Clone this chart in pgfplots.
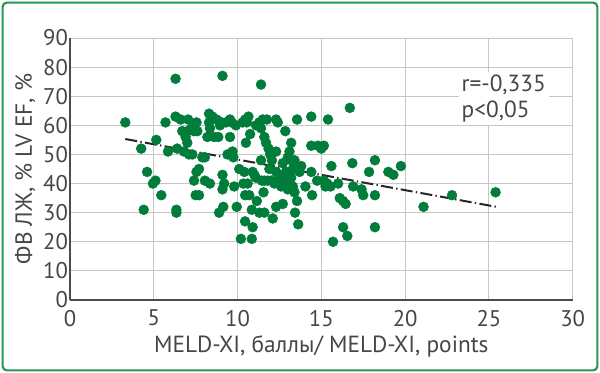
\documentclass[border=0pt]{standalone}
\usepackage{pgfplots}
\pgfplotsset{compat=1.18}
\usepackage{fontspec}
\setmainfont{PT Sans}
\definecolor{dotgreen}{RGB}{0,125,58}
\definecolor{framegreen}{RGB}{40,150,85}
\definecolor{txt}{RGB}{70,70,70}
\begin{document}
\begin{tikzpicture}
\fill[white] (-52.5pt,-54.75pt) rectangle (397.5pt,225pt);
\draw[framegreen, line width=1.6pt, rounded corners=3pt] (-50.5pt,-52.75pt) rectangle (395.5pt,223pt);
\begin{axis}[
  scale only axis, width=377pt, height=196.5pt,
  xmin=0, xmax=30, ymin=0, ymax=90,
  xtick={0,5,...,30}, ytick={0,10,...,90},
  grid=major, grid style={gray!45, line width=0.6pt},
  axis x line*=bottom, axis y line*=left,
  axis line style={-, gray!60!black, line width=1pt},
  tick style={draw=none},
  /pgf/number format/assume math mode=true,
  ticklabel style={font=\fontsize{17}{17}\selectfont, text=txt},
  xticklabel style={yshift=-4pt},
  yticklabel style={xshift=2pt},
  xlabel={MELD-XI, баллы/ MELD-XI, points},
  ylabel={ФВ ЛЖ, \% LV EF, \%},
  label style={font=\fontsize{17.5}{17.5}\selectfont, text=txt},
  xlabel style={yshift=0pt},
  ylabel style={yshift=-1pt},
  clip=false,
]
\addplot[only marks, mark=*, mark size=3.7pt, mark options={fill=dotgreen, draw=dotgreen}] coordinates {
(3.3,61)(4.25,52)(4.4,31)(4.6,44)(5.15,55)(4.95,40)(5.1,41)(5.45,36)(5.7,61)(5.85,51)
(6.3,76)(6.3,63)(6.35,31)(6.35,30)(6.4,52)(6.6,62)(6.8,51)(7.05,62)(6.7,58)(6.9,56)
(7.0,54)(7.1,50)(7.3,50)(7.0,58)(7.25,59)(7.4,58)(7.55,61)(7.6,58)(7.4,41)(7.55,44)
(7.7,45)(7.5,36)(7.7,36)(7.9,49)(8.05,49)(8.3,61)(8.3,64)(8.2,56)(8.35,59)(8.5,63)
(8.6,56)(8.85,56)(8.75,62)(9.05,61)(8.05,41)(8.35,40)(9.1,77)(9.1,43)(9.1,38)(9.2,40)
(8.9,30)(9.15,32)(9.3,61)(9.55,62)(9.65,61)(9.55,56)(9.7,51)(9.75,49)(9.8,39)(9.95,32)
(10.1,45)(10.2,21)(10.3,61)(10.45,62)(10.55,61)(10.5,54)(10.4,44)(10.35,40)(10.45,27)(10.45,36)
(10.7,36)(10.85,21)(10.9,25)(10.65,63)(10.75,57)(10.85,31)(10.9,44)(11.1,42)(11.15,34)(11.4,74)
(11.3,61)(11.4,59)(11.5,62)(11.6,56)(11.7,54)(11.4,48)(11.45,41)(11.55,37)(11.3,30)(11.6,30)
(11.75,62)(11.85,52)(11.95,50)(12.05,48)(12.1,28)(12.3,62)(12.4,61)(12.3,51)(12.3,44)(12.4,41)
(12.5,41)(12.3,32)(12.7,33)(12.75,42)(12.95,40)(13.1,43)(13.2,42)(12.85,58)(13.2,54)(13.1,51)
(13.0,49)(13.2,48)(13.4,48)(13.5,46)(13.3,39)(13.4,37)(13.43,30)(13.55,34)(13.62,26)(13.55,62)
(13.7,44)(13.8,46)(14.05,39)(14.4,63)(14.4,53)(14.4,44)(14.45,36)(14.8,53)(15.0,52)(15.15,53)
(14.75,41)(15.15,41)(15.25,39)(15.35,40)(15.4,62)(15.6,46)(15.55,39)(15.7,20)(16.0,40)(16.1,35)
(16.3,34)(16.45,33)(16.3,25)(16.55,22)(16.7,66)(16.85,47)(16.9,39)(17.4,38)(17.5,36)(17.85,44)
(18.2,48)(18.2,36)(18.2,25)(19.0,44)(19.3,43)(19.75,46)(21.1,32)(22.8,36)(25.4,37)
(11.1,60)(12.0,51)(12.6,43)(12.0,41)(11.8,41)(12.2,40)(13.0,38)(12.8,40)(12.6,39)(11.6,41)
(12.9,44)(12.5,42)(13.3,45)(11.0,43)(10.6,40)(9.9,60)(8.95,60)(9.4,50)(11.9,45)(12.7,47)
};
\addplot[line width=1.5pt, black!85, dash pattern=on 9pt off 2.5pt on 1pt off 2.5pt] coordinates {(3.3,55.3)(25.45,32)};
\node[fill=white, inner sep=2pt, align=left, anchor=north west, text=txt, font=\fontsize{17.5}{20}\selectfont] at (axis cs:23.2,78.5) {r=-0,335\\p<0,05};
\end{axis}
\end{tikzpicture}
\end{document}
